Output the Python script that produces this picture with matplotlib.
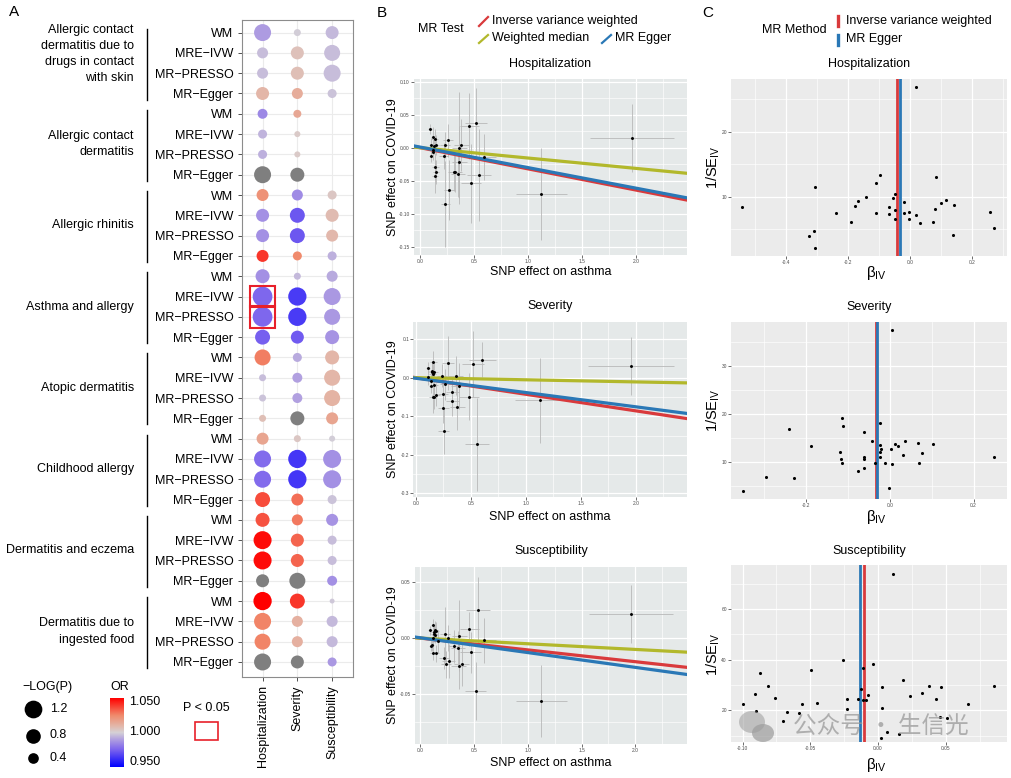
import numpy as np
import matplotlib
matplotlib.use('Agg')
import matplotlib.pyplot as plt
import matplotlib.transforms as mtransforms
from matplotlib.colors import LinearSegmentedColormap
from matplotlib.patches import Rectangle, Ellipse
from matplotlib.ticker import AutoMinorLocator

plt.rcParams['font.family'] = ['Liberation Sans', 'DejaVu Sans']
plt.rcParams['mathtext.fontset'] = 'custom'
plt.rcParams['mathtext.rm'] = 'Liberation Sans'
plt.rcParams['mathtext.it'] = 'Liberation Sans:italic'
plt.rcParams['axes.unicode_minus'] = False

NA = np.nan

# ---------------- panel A data ----------------
groups = ['Allergic contact\ndermatitis due to\ndrugs in contact\nwith skin',
          'Allergic contact\ndermatitis', 'Allergic rhinitis', 'Asthma and allergy',
          'Atopic dermatitis', 'Childhood allergy', 'Dermatitis and eczema',
          'Dermatitis due to\ningested food']
methods = ['WM', 'MRE\u2212IVW', 'MR\u2212PRESSO', 'MR\u2212Egger']
outcomes = ['Hospitalization', 'Severity', 'Susceptibility']

# OR (NA = grey, outside colour range)
or_hosp = [0.989, 0.996, 0.996, 1.010, 0.984, 0.994, 0.993, NA,
           1.022, 0.986, 0.986, 1.040, 0.986, 0.976, 0.976, 0.974,
           1.027, 0.996, 0.997, 1.007, 1.016, 0.977, 0.977, 1.036,
           1.035, 1.048, 1.048, NA, 1.050, 1.026, 1.026, NA]
or_sev = [0.999, 1.006, 1.007, 1.013, 1.015, 1.003, 1.003, NA,
          0.985, 0.972, 0.972, 1.025, 0.995, 0.965, 0.965, 0.973,
          0.992, 0.990, 0.990, NA, 1.004, 0.964, 0.964, 1.030,
          1.028, 1.032, 1.032, NA, 1.040, 1.012, 1.012, NA]
or_sus = [0.995, 0.996, 0.996, 0.997, NA, NA, NA, NA,
          1.004, 1.008, 1.009, 0.993, 0.992, 0.988, 0.988, 0.987,
          1.010, 1.010, 1.011, 1.016, 0.999, 0.986, 0.986, 0.997,
          0.987, 0.996, 0.996, 0.986, 0.998, 0.995, 0.995, 0.988]
# -log10(P)  (NA = not available)
lp_hosp = [1.10, 0.43, 0.43, 0.62, 0.34, 0.27, 0.27, 1.10,
           0.52, 0.62, 0.62, 0.52, 0.73, 1.50, 1.50, 0.84,
           0.97, 0.14, 0.14, 0.14, 0.52, 1.10, 1.10, 0.84,
           0.73, 1.24, 1.24, 0.62, 1.28, 1.10, 0.97, 1.10]
lp_sev = [0.14, 0.62, 0.62, 0.43, 0.20, 0.09, 0.09, 0.73,
          0.43, 0.84, 0.84, 0.27, 0.14, 1.28, 1.28, 0.62,
          0.27, 0.34, 0.34, 0.73, 0.14, 1.28, 1.28, 0.52,
          0.43, 0.62, 0.62, 0.97, 0.84, 0.43, 0.43, 0.62]
lp_sus = [0.62, 0.97, 1.10, 0.27, NA, NA, NA, NA,
          0.27, 0.62, 0.52, 0.27, 0.43, 1.10, 0.97, 0.73,
          0.73, 0.97, 0.97, 0.52, 0.09, 1.24, 1.24, 0.27,
          0.52, 0.27, 0.27, 0.34, 0.04, 0.43, 0.43, 0.27]
legend_lp = [1.2, 0.8, 0.4]

# ---------------- panel B data (SNP effects) ----------------
hosp_x = [0.093, 0.099, 0.102, 0.118, 0.124, 0.124, 0.130, 0.136, 0.139, 0.142,
          0.148, 0.148, 0.219, 0.232, 0.235, 0.260, 0.272, 0.315, 0.325, 0.349,
          0.362, 0.364, 0.383, 0.458, 0.470, 0.516, 0.544, 0.593, 1.125, 1.963]
hosp_y = [0.028, -0.012, 0.0045, -0.0035, -0.0065, 0.0157, 0.0026, 0.0132, -0.0434, -0.0288,
          0.0036, -0.0368, -0.0126, 0.0041, -0.0853, 0.0112, -0.064, -0.0363, -0.0368, -0.0398,
          -0.0217, -0.0005, 0.0041, 0.0329, -0.054, 0.0379, -0.0414, -0.0136, -0.0706, 0.0147]
hosp_sx = [0.02, 0.02, 0.02, 0.025, 0.025, 0.025, 0.025, 0.03, 0.03, 0.03,
           0.03, 0.03, 0.04, 0.045, 0.045, 0.05, 0.05, 0.06, 0.06, 0.065,
           0.07, 0.07, 0.07, 0.09, 0.095, 0.10, 0.11, 0.11, 0.235, 0.39]
hosp_sy = [0.008, 0.01, 0.01, 0.012, 0.012, 0.015, 0.012, 0.015, 0.025, 0.02,
           0.015, 0.018, 0.02, 0.02, 0.065, 0.025, 0.045, 0.03, 0.03, 0.035,
           0.055, 0.085, 0.04, 0.05, 0.06, 0.053, 0.07, 0.035, 0.07, 0.052]

sev_x = [0.109, 0.113, 0.136, 0.142, 0.145, 0.150, 0.155, 0.155, 0.160, 0.167,
         0.170, 0.170, 0.182, 0.236, 0.248, 0.251, 0.257, 0.270, 0.290, 0.333,
         0.333, 0.364, 0.378, 0.397, 0.485, 0.524, 0.554, 0.606, 1.133, 1.960]
sev_y = [0.026, 0.0016, -0.0095, -0.021, 0.018, 0.0147, 0.009, -0.051, 0.0395, -0.050,
         0.0155, -0.018, -0.044, 0.005, -0.042, -0.078, -0.138, -0.017, 0.038, -0.038,
         -0.060, 0.005, -0.075, -0.022, -0.049, 0.036, -0.173, 0.047, -0.059, 0.030]
sev_sx = [0.02, 0.02, 0.025, 0.025, 0.025, 0.03, 0.03, 0.03, 0.03, 0.03,
          0.03, 0.03, 0.035, 0.045, 0.045, 0.05, 0.05, 0.05, 0.055, 0.06,
          0.06, 0.07, 0.07, 0.075, 0.09, 0.10, 0.11, 0.12, 0.235, 0.39]
sev_sy = [0.015, 0.02, 0.02, 0.02, 0.025, 0.025, 0.02, 0.04, 0.03, 0.03,
          0.025, 0.03, 0.03, 0.03, 0.04, 0.04, 0.06, 0.04, 0.07, 0.04,
          0.04, 0.05, 0.06, 0.06, 0.06, 0.085, 0.12, 0.045, 0.11, 0.075]

sus_x = [0.093, 0.102, 0.114, 0.117, 0.121, 0.124, 0.127, 0.133, 0.139, 0.142,
         0.148, 0.148, 0.170, 0.220, 0.235, 0.241, 0.260, 0.269, 0.316, 0.350,
         0.362, 0.365, 0.387, 0.458, 0.470, 0.517, 0.541, 0.594, 1.126, 1.963]
sus_y = [0.0069, -0.0069, -0.0066, 0.0, -0.0135, 0.0114, 0.005, 0.0039, 0.0024, 0.0075,
         0.0063, -0.0138, -0.003, -0.018, 0.0033, -0.0234, 0.0, -0.0207, -0.0075, -0.0087,
         -0.0254, 0.0021, -0.0234, 0.0081, -0.0129, -0.0476, 0.0249, -0.002, -0.0566, 0.0213]
sus_sx = hosp_sx
sus_sy = [0.004, 0.005, 0.005, 0.006, 0.006, 0.006, 0.006, 0.007, 0.007, 0.008,
          0.008, 0.008, 0.01, 0.01, 0.025, 0.012, 0.012, 0.015, 0.015, 0.015,
          0.02, 0.032, 0.02, 0.015, 0.018, 0.026, 0.03, 0.02, 0.032, 0.026]

# slopes: IVW, weighted median, Egger intercept + slope
ivw_slope = [-0.0321, -0.0430, -0.0106]
wm_slope = [-0.0157, -0.0055, -0.0051]
egger_int = [0.0009, -0.0015, 0.0003]
egger_slope = [-0.0311, -0.0370, -0.0133]

# ---------------- panel C data (funnel) ----------------
fh_b = [-0.540, -0.307, -0.326, -0.309, -0.307, -0.238, -0.191, -0.176, -0.166, -0.143,
        -0.109, -0.097, -0.108, -0.067, -0.067, -0.055, -0.047, -0.047, -0.047, -0.018,
        -0.019, -0.003, -0.003, 0.018, 0.020, 0.032, 0.075, 0.082, 0.084, 0.099,
        0.115, 0.140, 0.141, 0.258, 0.270]
fh_p = [8.46, 11.54, 3.95, 4.72, 2.15, 7.44, 6.10, 8.57, 9.29, 9.90,
        12.06, 13.30, 7.54, 8.42, 7.34, 9.85, 10.37, 7.95, 6.62, 9.23,
        7.49, 7.65, 6.62, 26.83, 7.13, 5.95, 6.05, 8.06, 13.08, 9.08,
        9.54, 4.06, 8.68, 7.60, 5.23]
fs_b = [-0.351, -0.297, -0.229, -0.241, -0.188, -0.119, -0.118, -0.114, -0.114, -0.112,
        -0.076, -0.063, -0.063, -0.061, -0.063, -0.043, -0.035, -0.024, -0.023, -0.024,
        -0.021, -0.025, -0.012, -0.003, 0.002, 0.006, 0.006, 0.011, 0.018, 0.031,
        0.035, 0.068, 0.070, 0.077, 0.102, 0.249]
fs_p = [3.92, 6.79, 6.58, 16.86, 13.36, 12.10, 10.50, 9.79, 19.10, 17.55,
        8.05, 16.23, 10.99, 10.63, 8.74, 14.27, 9.66, 18.04, 13.43, 12.10,
        12.66, 11.05, 9.79, 4.49, 12.73, 37.60, 9.45, 13.64, 13.29, 11.34,
        14.27, 13.99, 9.79, 11.82, 13.71, 11.05]
fu_b = [-0.0995, -0.0911, -0.0901, -0.0874, -0.0810, -0.0763, -0.0704, -0.0670, -0.0586, -0.0559,
        -0.0495, -0.0448, -0.0256, -0.0229, -0.0231, -0.0145, -0.0123, -0.0113, -0.0111, -0.0086,
        -0.0076, -0.0035, 0.0022, 0.0027, 0.0032, 0.0066, 0.0108, 0.0153, 0.0185, 0.0239,
        0.0322, 0.0379, 0.0428, 0.0468, 0.0458, 0.0507, 0.0667, 0.0857]
fu_p = [22.5, 26.3, 19.6, 34.8, 29.7, 24.9, 15.9, 19.3, 19.1, 22.6,
        35.8, 23.0, 39.8, 24.5, 20.6, 24.5, 28.3, 36.6, 24.1, 24.2,
        26.0, 38.3, 9.0, 29.2, 21.0, 11.6, 73.9, 10.5, 32.1, 25.5,
        26.9, 29.5, 24.3, 29.1, 17.5, 17.0, 22.5, 29.6]
c_ivw = [-0.041, -0.033, -0.0103]
c_egger = [-0.032, -0.031, -0.0131]

RED = '#d93a3c'
BLUE = '#2a78b6'
YEL = '#b2b82b'

W, H = 1012, 778
fig = plt.figure(figsize=(W / 100, H / 100), dpi=100)


def rect(x0, y0, x1, y1):
    return [x0 / W, 1 - y1 / H, (x1 - x0) / W, (y1 - y0) / H]


def ftext(x, y, s, **kw):
    kw.setdefault('fontsize', 9)
    return fig.text(x / W, 1 - y / H, s, **kw)


def bubble(v):
    return 0.5184 * (14 + 250 * np.asarray(v, float))


cmap = LinearSegmentedColormap.from_list(
    'or', [(0.0, '#0000ff'), (0.25, '#7b63ee'), (0.40, '#b1a0e0'), (0.5, '#d6d2d6'),
           (0.60, '#e3b6a8'), (0.75, '#f08a6c'), (1.0, '#ff0000')])

# ================= panel A =================
axA = fig.add_axes(rect(241.7, 20, 353, 677))
rows = np.arange(1, 33)
for j, (orv, lp) in enumerate([(or_hosp, lp_hosp), (or_sev, lp_sev), (or_sus, lp_sus)]):
    orv = np.array(orv, float)
    lp = np.array(lp, float)
    ok = ~np.isnan(lp)
    grey = ok & np.isnan(orv)
    col = ok & ~np.isnan(orv)
    axA.scatter(np.full(col.sum(), j + 1), rows[col], s=bubble(lp[col]), c=orv[col],
                cmap=cmap, vmin=0.95, vmax=1.05, linewidths=0, zorder=3)
    axA.scatter(np.full(grey.sum(), j + 1), rows[grey], s=bubble(lp[grey]),
                color='#7f7f7f', linewidths=0, zorder=3)
    for r in rows[ok & (lp > 1.3)]:
        axA.add_patch(Rectangle((j + 1 - 0.35, r - 0.53), 0.7, 1.06, fill=False,
                                edgecolor='#e8202a', lw=1.5, zorder=4))
axA.set_xlim(0.4, 3.6)
axA.set_ylim(32.74, 0.38)
axA.set_yticks(rows)
axA.set_yticklabels(methods * 8, fontsize=9)
axA.set_xticks([1, 2, 3])
axA.set_xticklabels(outcomes, rotation=90, fontsize=9)
axA.grid(True, color='#ebebeb', lw=0.8)
axA.set_axisbelow(True)
for s in axA.spines.values():
    s.set_color('#8c8c8c')
    s.set_linewidth(0.8)
axA.tick_params(length=3, width=0.6, color='#333333', pad=3)

trans = mtransforms.blended_transform_factory(fig.transFigure, axA.transData)
label_shift = [-0.45, 0, 0, 0, 0, 0, 0, 0]
for g, name in enumerate(groups):
    r0, r1 = 4 * g + 1, 4 * g + 4
    axA.plot([147 / W, 147 / W], [r0 - 0.2, r1 + 0.3], transform=trans,
             color='black', lw=1, clip_on=False)
    axA.text(134 / W, (r0 + r1) / 2 + label_shift[g], name, transform=trans,
             ha='right', va='center', multialignment='right', fontsize=9,
             linespacing=1.45)

# overlay for legend keys (pixel coordinates)
ov = fig.add_axes([0, 0, 1, 1])
ov.set_xlim(0, W)
ov.set_ylim(H, 0)
ov.axis('off')
ov.set_zorder(10)

ftext(14, 12, 'A', fontsize=11, ha='center', va='center')
ftext(22.7, 687, '\u2212LOG(P)', ha='left', va='center')
for v, yy in zip(legend_lp, [709, 735.5, 758.3]):
    ov.scatter([33], [yy], s=bubble(v), color='black', linewidths=0)
    ftext(50, yy, f'{v:.1f}', ha='left', va='center')
ftext(110, 687, 'OR', ha='left', va='center')
cb = fig.add_axes(rect(110, 698, 124, 766.7))
cb.imshow(np.linspace(0, 1, 256)[:, None], cmap=cmap, aspect='auto', origin='lower')
cb.set_xticks([])
cb.set_yticks([])
for s in cb.spines.values():
    s.set_visible(False)
for t, yy in zip(['1.050', '1.000', '0.950'], [701.7, 731.7, 761.7]):
    ftext(129, yy, t, ha='left', va='center')
ftext(206, 707.7, 'P < 0.05', ha='center', va='center')
ov.add_patch(Rectangle((195, 721.7), 23.3, 18.3, fill=False, edgecolor='#e8202a', lw=1.2))


def gg_style(ax, bg):
    ax.set_facecolor(bg)
    for s in ax.spines.values():
        s.set_visible(False)
    ax.xaxis.set_minor_locator(AutoMinorLocator(2))
    ax.yaxis.set_minor_locator(AutoMinorLocator(2))
    ax.grid(True, which='major', color='white', lw=0.9)
    ax.grid(True, which='minor', color='white', lw=0.45)
    ax.tick_params(which='major', labelsize=3.5, labelcolor='#4d4d4d', color='#333333',
                   length=2, width=0.5, pad=1)
    ax.tick_params(which='minor', length=0)
    ax.set_axisbelow(True)


# ================= panel B =================
ftext(382, 12.7, 'B', fontsize=11, ha='center', va='center')
ftext(418, 29.3, 'MR Test', ha='left', va='center')
ov.plot([479, 488], [26, 17], color=RED, lw=1.6)
ov.plot([479, 488], [43, 35], color=YEL, lw=1.6)
ov.plot([602, 611], [43, 35], color=BLUE, lw=1.6)
ftext(491.7, 20.7, 'Inverse variance weighted', ha='left', va='center')
ftext(491.7, 38.3, 'Weighted median', ha='left', va='center')
ftext(615, 38.3, 'MR Egger', ha='left', va='center')

b_rects = [(414, 79, 687, 255), (413.3, 321.7, 686.7, 497.3), (415, 566.7, 686.7, 744)]
b_xlims = [(-0.056, 2.474), (-0.022, 2.463), (-0.046, 2.476)]
b_ylims = [(-0.1626, 0.104), (-0.31, 0.145), (-0.095, 0.064)]
b_yticks = [[-0.15, -0.10, -0.05, 0.0, 0.05, 0.10], [-0.3, -0.2, -0.1, 0.0, 0.1],
            [-0.05, 0.0, 0.05]]
b_yfmt = ['{:.2f}', '{:.1f}', '{:.2f}']
b_title_y = [64, 306, 551]
b_xlab_y = [272, 517, 763]
b_data = [(hosp_x, hosp_y, hosp_sx, hosp_sy), (sev_x, sev_y, sev_sx, sev_sy),
          (sus_x, sus_y, sus_sx, sus_sy)]
for i in range(3):
    x0, y0, x1, y1 = b_rects[i]
    ax = fig.add_axes(rect(x0, y0, x1, y1))
    gg_style(ax, '#e5e9e9')
    bx, by, bsx, bsy = b_data[i]
    ax.errorbar(bx, by, xerr=bsx, yerr=bsy, fmt='none', ecolor='#b8b8b8',
                elinewidth=0.6, capsize=0, zorder=2)
    xx = np.array(b_xlims[i])
    ax.plot(xx, ivw_slope[i] * xx, color=RED, lw=2.3, zorder=3)
    ax.plot(xx, wm_slope[i] * xx, color=YEL, lw=2.3, zorder=3)
    ax.plot(xx, egger_int[i] + egger_slope[i] * xx, color=BLUE, lw=2.3, zorder=3)
    ax.scatter(bx, by, s=4.5, color='black', linewidths=0, zorder=4)
    ax.set_xlim(*b_xlims[i])
    ax.set_ylim(*b_ylims[i])
    ax.set_xticks([0, 0.5, 1.0, 1.5, 2.0])
    ax.set_xticklabels(['0.0', '0.5', '1.0', '1.5', '2.0'])
    ax.set_yticks(b_yticks[i])
    ax.set_yticklabels([b_yfmt[i].format(t) for t in b_yticks[i]])
    cx = (x0 + x1) / 2
    ftext(cx, b_title_y[i], outcomes[i], ha='center', va='center')
    ftext(cx, b_xlab_y[i], 'SNP effect on asthma', ha='center', va='center')
    ftext(393.3, (y0 + y1) / 2, 'SNP effect on COVID-19', ha='center', va='center',
          rotation=90)

# ================= panel C =================
ftext(708, 13.3, 'C', fontsize=11, ha='center', va='center')
ftext(761.7, 30, 'MR Method', ha='left', va='center')
ov.plot([838, 838], [16, 26], color=RED, lw=2.4)
ov.plot([838, 838], [35, 45], color=BLUE, lw=2.4)
ftext(846, 20.7, 'Inverse variance weighted', ha='left', va='center')
ftext(846, 39.3, 'MR Egger', ha='left', va='center')

c_rects = [(731, 79.3, 1006.7, 256), (731, 321.7, 1006.7, 498.7), (731, 565.3, 1006.7, 742.3)]
c_xlims = [(-0.577, 0.312), (-0.380, 0.279), (-0.1086, 0.095)]
c_ylims = [(0.88, 28.06), (2.24, 39.35), (7.38, 77.2)]
c_xticks = [[-0.4, -0.2, 0.0, 0.2], [-0.2, 0.0, 0.2], [-0.10, -0.05, 0.0, 0.05]]
c_xfmt = ['{:.1f}', '{:.1f}', '{:.2f}']
c_yticks = [[10, 20], [10, 20, 30], [20, 40, 60]]
c_title_y = [64, 307, 551]
c_xlab_y = [273, 517, 765]
c_data = [(fh_b, fh_p), (fs_b, fs_p), (fu_b, fu_p)]
for i in range(3):
    x0, y0, x1, y1 = c_rects[i]
    ax = fig.add_axes(rect(x0, y0, x1, y1))
    gg_style(ax, '#ebebeb')
    cb_, cp_ = c_data[i]
    ax.axvline(c_ivw[i], color=RED, lw=2.0, zorder=3)
    ax.axvline(c_egger[i], color=BLUE, lw=2.0, zorder=3)
    ax.scatter(cb_, cp_, s=5, color='black', linewidths=0, zorder=4)
    ax.set_xlim(*c_xlims[i])
    ax.set_ylim(*c_ylims[i])
    ax.set_xticks(c_xticks[i])
    ax.set_xticklabels([c_xfmt[i].format(t) for t in c_xticks[i]])
    ax.set_yticks(c_yticks[i])
    cx = (x0 + x1) / 2
    ftext(cx, c_title_y[i], outcomes[i], ha='center', va='center')
    ftext(cx + 8, c_xlab_y[i], r'$\mathrm{\beta}_{\mathrm{IV}}$', fontsize=11,
          ha='center', va='center')
    ftext(713, (y0 + y1) / 2, r'1/SE$_{\mathrm{IV}}$', fontsize=10.5, ha='center',
          va='center', rotation=90)

# watermark
ov.add_patch(Ellipse((752, 722), 26, 22, color='#9c9c9c', alpha=0.55, lw=0))
ov.add_patch(Ellipse((763, 733), 22, 18, color='#9c9c9c', alpha=0.7, lw=0))
ftext(881, 726, '公众号 · 生信光', fontsize=17, color='#9a9a9a', alpha=0.75,
      ha='center', va='center', family=['Noto Sans CJK SC', 'DejaVu Sans'])

fig.savefig('out.png', dpi=100)
